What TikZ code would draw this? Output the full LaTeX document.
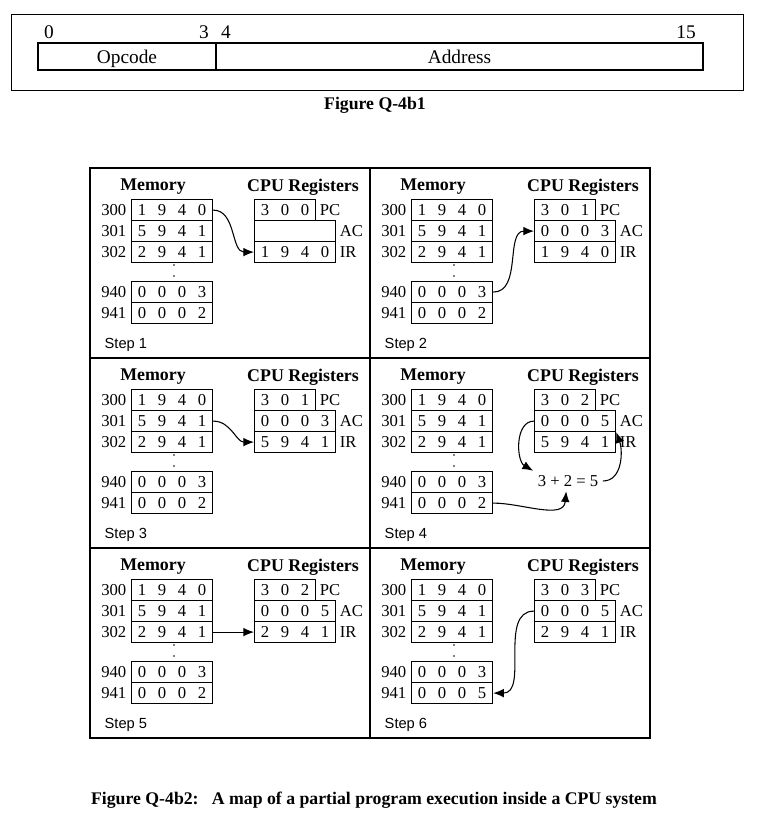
\documentclass[tikz,border=0pt]{standalone}
\usepackage{fontspec}
\setmainfont{Liberation Serif}
\setsansfont{Liberation Sans}
\usetikzlibrary{positioning,arrows.meta}
\newcommand{\wrd}[4]{\makebox[15pt]{#1}\makebox[15pt]{#2}\makebox[15pt]{#3}\makebox[15pt]{#4}}
\newcommand{\wrdt}[3]{\makebox[15pt]{#1}\makebox[15pt]{#2}\makebox[15pt]{#3}}
\begin{document}
\begin{tikzpicture} [
    x=0.75pt, y=-0.75pt,
    cellline/.style={line width=2.2pt},
    field/.style={draw, line width=0.9pt, minimum height=20.25pt, inner sep=0pt, text height=11.5pt, text depth=1.5pt, font=\fontsize{14.5}{16}\selectfont},
    bit/.style={font=\fontsize{14.5}{16}\selectfont},
    word/.style={draw, line width=0.9pt, minimum width=60.75pt, minimum height=15.75pt, inner sep=0pt, anchor=north west, font=\fontsize{12.5}{14}\selectfont},
    pcword/.style={word, minimum width=45.75pt},
    addr/.style={left=0pt of #1, font=\fontsize{12.5}{14}\selectfont},
    regname/.style={right=1.5pt of #1, inner sep=1pt, font=\fontsize{12.5}{14}\selectfont},
    head/.style={font=\bfseries\fontsize{13.4}{15}\selectfont},
    steplbl/.style={anchor=west, font=\sffamily\fontsize{11}{13}\selectfont},
    caption/.style={font=\bfseries\fontsize{13.3}{15}\selectfont},
    flow/.style={-{Latex[length=8pt,width=6.5pt]}, line width=0.8pt}
  ]
  \useasboundingbox (0,0) rectangle (768,830);
  % instruction format
  \draw[line width=0.6pt] (11,14) rectangle (743,90);
  \node[field, minimum width=133.5pt] (opc) at (127,56.5) {Opcode};
  \node[field, minimum width=365.25pt] (adr) at (459.5,56.5) {Address};
  \node[bit] (b0) at (49,32) {0};
  \node[bit] (b3) at (204,32) {3};
  \node[bit] (b4) at (226,32) {4};
  \node[bit] (b15) at (686,32) {15};
  \node[caption] (cap1) at (375,105) {Figure Q-4b1};
  % grid of steps
  \draw[cellline] (90,168) rectangle (650,738);
  \draw[cellline] (370,168) -- (370,738);
  \draw[cellline] (90,358) -- (650,358);
  \draw[cellline] (90,548) -- (650,548);
  \foreach \s/\ox/\oy/\pcv/\acv/\irv/\mv in {
      1/90/168/300/~~~~/1940/0002,
      2/370/168/301/0003/1940/0002,
      3/90/358/301/0003/5941/0002,
      4/370/358/302/0005/5941/0002,
      5/90/548/302/0005/2941/0002,
      6/370/548/303/0005/2941/0005} {
    \node[head] (mh\s) at (\ox+63,\oy+19) {Memory};
    \node[head] (ch\s) at (\ox+213,\oy+19) {CPU Registers};
    % memory words
    \node[word] (r300-\s) at (\ox+41,\oy+31) {\wrd 1940};
    \node[word] (r301-\s) at (\ox+41,\oy+52) {\wrd 5941};
    \node[word] (r302-\s) at (\ox+41,\oy+73) {\wrd 2941};
    \node[word] (r940-\s) at (\ox+41,\oy+113) {\wrd 0003};
    \node[word] (r941-\s) at (\ox+41,\oy+134) {\expandafter\wrd\mv};
    \node[addr=r300-\s] {300};
    \node[addr=r301-\s] {301};
    \node[addr=r302-\s] {302};
    \node[addr=r940-\s] {940};
    \node[addr=r941-\s] {941};
    \fill (\ox+84,\oy+97) circle (0.6pt);
    \fill (\ox+84,\oy+108) circle (0.6pt);
    % registers
    \node[pcword] (pc\s) at (\ox+164,\oy+31) {\expandafter\wrdt\pcv};
    \node[word] (ac\s) at (\ox+164,\oy+52) {\expandafter\wrd\acv};
    \node[word] (ir\s) at (\ox+164,\oy+73) {\expandafter\wrd\irv};
    \node[regname=pc\s] {PC};
    \node[regname=ac\s] {AC};
    \node[regname=ir\s] {IR};
    \node[steplbl] (st\s) at (\ox+10,\oy+177) {Step \s};
  }
  % data movements
  \draw[flow] (r300-1.east) to[out=0,in=180] (ir1.west);
  \draw[flow] (r940-2.east) to[out=0,in=180] (ac2.west);
  \draw[flow] (r301-3.east) to[out=0,in=180] (ir3.west);
  \node[font=\fontsize{12.5}{14}\selectfont] (sum) at (568,481) {3 + 2 = 5};
  \draw[flow] (ac4.west) to[out=180,in=150] (sum.north west);
  \draw[flow] (r941-4.east) to[out=0,in=-95] (sum.-100);
  \draw[flow] (sum.east) to[out=0,in=-70] (ac4.south east);
  \draw[flow] (r302-5.east) -- (ir5.west);
  \draw[flow] (ac6.west) to[out=180,in=0] (r941-6.east);
  \node[caption] (cap2) at (374,800) {Figure Q-4b2:\ \ \ A map of a partial program execution inside a CPU system};
\end{tikzpicture}
\end{document}
